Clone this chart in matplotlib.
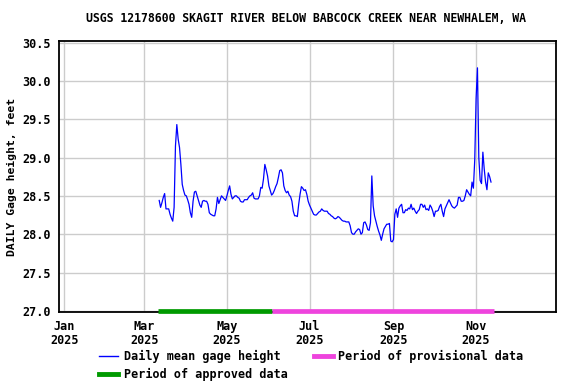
import matplotlib
matplotlib.use("Agg")
import matplotlib.pyplot as plt
from matplotlib.lines import Line2D
import pandas as pd

# daily mean gage height (ft), one value per day starting at first_day
first_day = "2025-03-12"
gage_ft = [
    28.44, 28.35, 28.41, 28.48, 28.53, 28.33, 28.33, 28.33, 28.26, 28.21,
    28.17, 28.35, 29.15, 29.43, 29.24, 29.13, 28.91, 28.65, 28.57, 28.51,
    28.50, 28.45, 28.39, 28.28, 28.22, 28.43, 28.55, 28.56, 28.50, 28.44,
    28.38, 28.35, 28.43, 28.44, 28.43, 28.43, 28.39, 28.28, 28.26, 28.25,
    28.24, 28.24, 28.33, 28.48, 28.40, 28.45, 28.50, 28.48, 28.46, 28.44,
    28.50, 28.57, 28.63, 28.52, 28.46, 28.48, 28.50, 28.50, 28.48, 28.47,
    28.43, 28.42, 28.42, 28.45, 28.45, 28.45, 28.48, 28.50, 28.51, 28.54,
    28.47, 28.46, 28.46, 28.46, 28.50, 28.61, 28.60, 28.72, 28.91, 28.84,
    28.76, 28.63, 28.57, 28.51, 28.53, 28.57, 28.62, 28.66, 28.74, 28.83,
    28.84, 28.80, 28.63, 28.57, 28.54, 28.56, 28.51, 28.49, 28.43, 28.30,
    28.24, 28.24, 28.23, 28.39, 28.52, 28.62, 28.60, 28.57, 28.58, 28.52,
    28.43, 28.38, 28.34, 28.30, 28.26, 28.25, 28.25, 28.27, 28.29, 28.30,
    28.33, 28.31, 28.30, 28.30, 28.30, 28.27, 28.26, 28.24, 28.23, 28.21,
    28.20, 28.21, 28.23, 28.22, 28.20, 28.18, 28.17, 28.17, 28.16, 28.16,
    28.16, 28.11, 28.02, 28.00, 28.00, 28.03, 28.05, 28.07, 28.06, 28.00,
    28.02, 28.15, 28.16, 28.12, 28.06, 28.05, 28.15, 28.76, 28.37, 28.24,
    28.17, 28.10, 28.04, 27.99, 27.92, 28.00, 28.07, 28.10, 28.13, 28.13,
    28.14, 27.91, 27.90, 27.93, 28.26, 28.33, 28.22, 28.34, 28.37, 28.39,
    28.28, 28.28, 28.32, 28.31, 28.34, 28.33, 28.39, 28.32, 28.34, 28.30,
    28.27, 28.30, 28.32, 28.39, 28.39, 28.35, 28.38, 28.32, 28.33, 28.31,
    28.38, 28.35, 28.30, 28.23, 28.30, 28.30, 28.31, 28.36, 28.39, 28.30,
    28.23, 28.33, 28.37, 28.41, 28.45, 28.41, 28.37, 28.35, 28.34, 28.36,
    28.38, 28.48, 28.48, 28.43, 28.43, 28.44, 28.50, 28.58, 28.55, 28.52,
    28.50, 28.68, 28.60, 28.97, 29.77, 30.17, 29.00, 28.70, 28.66, 29.07,
    28.85, 28.68, 28.58, 28.80, 28.75, 28.68,
]

approved_start = "2025-03-11"
approved_end = "2025-06-03"
provisional_end = "2025-11-14"

title = "USGS 12178600 SKAGIT RIVER BELOW BABCOCK CREEK NEAR NEWHALEM, WA"
ylabel = "DAILY Gage height, feet"
yticks = [27.0, 27.5, 28.0, 28.5, 29.0, 29.5, 30.0, 30.5]
xtick_dates = ["2025-01-01", "2025-03-01", "2025-05-01", "2025-07-01", "2025-09-01", "2025-11-01"]

FONT = dict(family="DejaVu Sans Mono", weight="bold", size=8.5)
plt.rcParams["font.family"] = "DejaVu Sans Mono"
plt.rcParams["font.weight"] = "bold"

days = pd.date_range(first_day, periods=len(gage_ft), freq="D")

fig = plt.figure(figsize=(5.76, 3.84), dpi=100)
ax = fig.add_axes([59 / 576, 1 - 312 / 384, 497 / 576, 271 / 384])

ax.plot(days, gage_ft, color="#0000ff", lw=0.9, zorder=3)

# data-status bars along the bottom
ax.plot([pd.Timestamp(approved_start), pd.Timestamp(approved_end)], [27.0, 27.0],
        color="#009a00", lw=3.4, solid_capstyle="butt", clip_on=False, zorder=4)
ax.plot([pd.Timestamp(approved_end), pd.Timestamp(provisional_end)], [27.0, 27.0],
        color="#ee44dd", lw=3.4, solid_capstyle="butt", clip_on=False, zorder=4)

ax.set_xlim(pd.Timestamp("2024-12-28"), pd.Timestamp("2025-12-30"))
ax.set_ylim(26.985, 30.52)
ax.set_yticks(yticks)
ax.set_yticklabels([f"{v:.1f}" for v in yticks], fontdict=FONT)
xt = [pd.Timestamp(d) for d in xtick_dates]
ax.set_xticks(xt)
ax.set_xticklabels([d.strftime("%b\n%Y") for d in xt], fontdict=FONT, linespacing=1.1)
ax.tick_params(length=0)
ax.tick_params(axis="y", pad=6)
ax.tick_params(axis="x", pad=6)
ax.grid(True, color="#cccccc", lw=1.0)
ax.set_axisbelow(True)
for s in ax.spines.values():
    s.set_linewidth(1.3)

ax.set_ylabel(ylabel, fontdict=dict(FONT, size=8.2), labelpad=4)
fig.text(306 / 576, 1 - 19 / 384, title, ha="center", va="center", **dict(FONT, size=8.3))

handles = [
    Line2D([], [], color="#0000ff", lw=1.0),
    Line2D([], [], color="#009a00", lw=3.5),
    Line2D([], [], color="#ee44dd", lw=3.5),
]
labels = ["Daily mean gage height", "Period of approved data", "Period of provisional data"]
fig.legend(handles, labels, loc="upper left", bbox_to_anchor=(99 / 576, 1 - 350 / 384),
           ncol=2, frameon=False, prop=dict(family="DejaVu Sans Mono", weight="bold", size=8.5),
           handlelength=1.6, handletextpad=0.5, columnspacing=2.2,
           labelspacing=0.4, borderpad=0, borderaxespad=0)

fig.savefig("out.png", dpi=100)
